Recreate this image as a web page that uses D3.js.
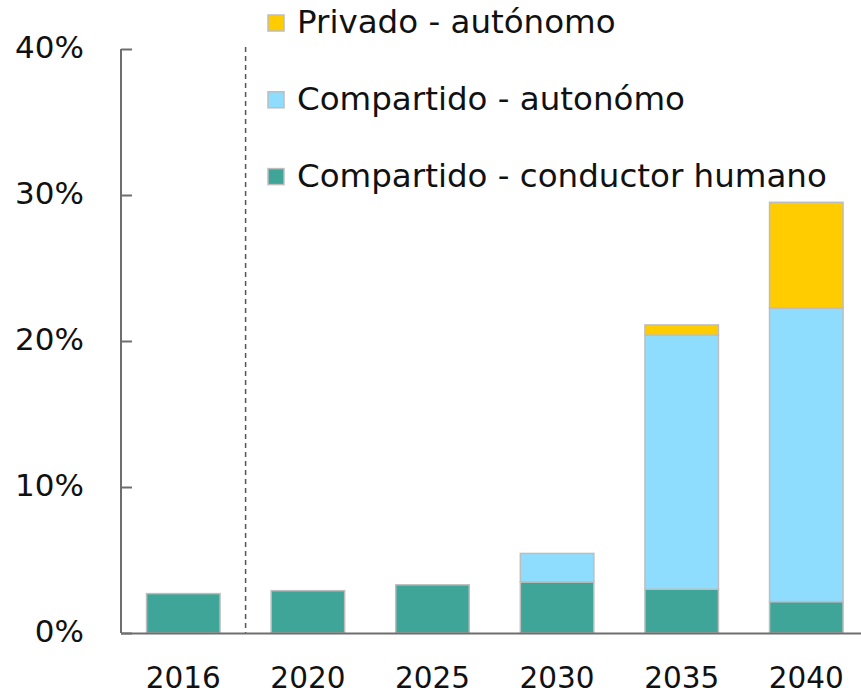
<!DOCTYPE html>
<html>
<head>
<meta charset="utf-8">
<script src="https://cdn.jsdelivr.net/npm/d3@7"></script>
<style>
	body { margin: 0; background: #fff; }
	svg { display: block; font-family: "DejaVu Sans", sans-serif; }
	.tick-label { font-size: 31px; fill: #111; }
	.year-label { font-size: 29.5px; fill: #111; }
	.legend-label { font-size: 32.5px; fill: #111; }
</style>
</head>
<body>
<svg id="chart" width="861" height="694"></svg>
<script>
// categories and series values (percent)
var years = ["2016", "2020", "2025", "2030", "2035", "2040"];
var humano = [2.7, 2.9, 3.3, 3.5, 3.0, 2.15];
var compartidoAutonomo = [0, 0, 0, 1.95, 17.4, 20.1];
var privadoAutonomo = [0, 0, 0, 0, 0.7, 7.25];
var seriesNames = ["Compartido - conductor humano", "Compartido - autonómo", "Privado - autónomo"];
var yTicks = [0, 10, 20, 30, 40];

var colors = {
	"Compartido - conductor humano": "#3fa599",
	"Compartido - autonómo": "#8eddff",
	"Privado - autónomo": "#ffcc00"
};

(function() {
	var svg = d3.select("#chart");
	// plot area edges (window.top is reserved, so no "top" here)
	var plotLeft = 121, plotRight = 868.6, plotTop = 49, plotBottom = 633;

	var x = d3.scaleBand()
		.domain(years)
		.range([plotLeft, plotRight])
		.paddingInner(0.41)
		.paddingOuter(0.205);

	var y = d3.scaleLinear()
		.domain([0, 40])
		.range([plotBottom, plotTop]);

	// build rows for the stack
	var rows = years.map(function(year, i) {
		var row = { year: year };
		row[seriesNames[0]] = humano[i];
		row[seriesNames[1]] = compartidoAutonomo[i];
		row[seriesNames[2]] = privadoAutonomo[i];
		return row;
	});
	var stacked = d3.stack().keys(seriesNames)(rows);

	// dashed separator between actual and forecast
	var sep = (x("2016") + x.bandwidth() + x("2020")) / 2;
	svg.append("line")
		.attr("x1", sep).attr("x2", sep)
		.attr("y1", plotTop - 2).attr("y2", plotBottom)
		.attr("stroke", "#555")
		.attr("stroke-width", 1.5)
		.attr("stroke-dasharray", "5,4");

	// bars
	stacked.forEach(function(layer) {
		svg.append("g")
			.selectAll("rect")
			.data(layer.filter(function(d) { return d[1] - d[0] > 0; }))
			.enter().append("rect")
			.attr("x", function(d) { return x(d.data.year); })
			.attr("width", x.bandwidth())
			.attr("y", function(d) { return y(d[1]); })
			.attr("height", function(d) { return y(d[0]) - y(d[1]); })
			.attr("fill", colors[layer.key])
			.attr("stroke", "#bdbdbd")
			.attr("stroke-width", 1.5);
	});

	// y axis: ticks point inward
	var yAxis = svg.append("g")
		.attr("transform", "translate(" + plotLeft + ",0)")
		.call(d3.axisRight(y).tickValues(yTicks).tickSize(11).tickFormat(""));
	yAxis.select(".domain").remove();
	yAxis.selectAll("line").attr("stroke", "#6e6e6e").attr("stroke-width", 2);
	svg.append("line")
		.attr("x1", plotLeft).attr("x2", plotLeft)
		.attr("y1", plotTop).attr("y2", plotBottom)
		.attr("stroke", "#6e6e6e").attr("stroke-width", 2);

	svg.append("g")
		.selectAll("text")
		.data(yTicks)
		.enter().append("text")
		.attr("class", "tick-label")
		.attr("x", 84)
		.attr("y", function(d) { return y(d); })
		.attr("dy", "0.3em")
		.attr("text-anchor", "end")
		.text(function(d) { return d + "%"; });

	// x axis
	svg.append("line")
		.attr("x1", plotLeft).attr("x2", 861)
		.attr("y1", plotBottom + 0.5).attr("y2", plotBottom + 0.5)
		.attr("stroke", "#6e6e6e").attr("stroke-width", 2);

	svg.append("g")
		.selectAll("text")
		.data(years)
		.enter().append("text")
		.attr("class", "year-label")
		.attr("x", function(d) { return x(d) + x.bandwidth() / 2; })
		.attr("y", 688)
		.attr("text-anchor", "middle")
		.text(function(d) { return d; });

	// legend, top entry is the top of the stack
	var legendItems = seriesNames.slice().reverse();
	var legend = svg.append("g")
		.selectAll("g")
		.data(legendItems)
		.enter().append("g")
		.attr("transform", function(d, i) { return "translate(268," + (33 + i * 76.8) + ")"; });

	legend.append("rect")
		.attr("x", 0).attr("y", -18)
		.attr("width", 16).attr("height", 16)
		.attr("fill", function(d) { return colors[d]; })
		.attr("stroke", "#bdbdbd")
		.attr("stroke-width", 1.5);

	legend.append("text")
		.attr("class", "legend-label")
		.attr("x", 29)
		.attr("y", 0)
		.text(function(d) { return d; });
})();
</script>
</body>
</html>
